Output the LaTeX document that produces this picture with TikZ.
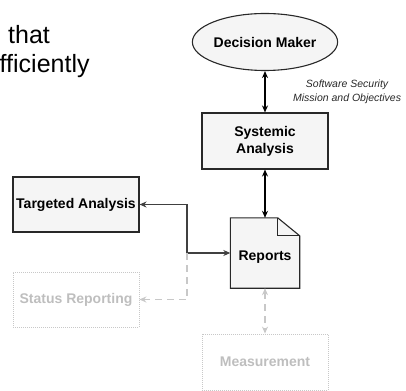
\documentclass[tikz,border=0pt]{standalone}
\usepackage{fontspec}
\setmainfont{Liberation Sans}
\usepackage{tikz}
\usetikzlibrary{positioning, shapes.geometric, arrows.meta}

\definecolor{boxfill}{RGB}{245,245,245}
\definecolor{boxline}{RGB}{40,40,40}
\definecolor{linkgray}{RGB}{64,64,64}
\definecolor{faded}{RGB}{200,200,200}
\definecolor{fadedtext}{RGB}{190,190,190}

\begin{document}
\begin{tikzpicture}[x=1pt, y=-1pt,
	stage/.style={draw=boxline, line width=1.1pt, fill=boxfill, align=center,
		inner sep=0pt, font=\fontsize{14}{16.8}\selectfont\bfseries},
	ghost/.style={draw=faded, line width=0.8pt, dash pattern=on 1pt off 1pt,
		text=fadedtext, inner sep=0pt, font=\fontsize{14}{16.8}\selectfont\bfseries},
	link/.style={line width=1.6pt, {Stealth[length=7pt,width=6pt]}-{Stealth[length=7pt,width=6pt]}},
	ghostlink/.style={draw=faded, line width=1.5pt, dash pattern=on 7pt off 5pt}
	]
	\useasboundingbox (0,0) rectangle (406,390);

	% slide text behind the figure
	\node[anchor=base west, inner sep=0pt, font=\fontsize{25}{29}\selectfont] (slidea) at (8,44) {that};
	\node[anchor=base west, inner sep=0pt, font=\fontsize{25}{29}\selectfont] (slideb) at (-0.5,73) {fficiently};

	% main chain
	\node[stage, ellipse, minimum width=136pt, minimum height=57pt] (decision) at (265,42) {Decision Maker};
	\node[stage, minimum width=126pt, minimum height=56pt] (systemic) at (265,141) {Systemic\\Analysis};
	\node[inner sep=0pt, minimum width=69pt, minimum height=70pt,
		font=\fontsize{14}{16.8}\selectfont\bfseries] (reports) at (265,253) {};
	\node[stage, minimum width=126pt, minimum height=55pt] (targeted) at (76,204.5) {Targeted Analysis};

	% folded sheet for the reports
	\draw[boxline, line width=1.1pt, fill=boxfill]
		(reports.north west) -- ([xshift=-22pt]reports.north east)
		-- ([yshift=-18pt]reports.north east) -- (reports.south east)
		-- (reports.south west) -- cycle;
	\draw[boxline, line width=1.1pt]
		([xshift=-22pt]reports.north east) -- ([xshift=-22pt, yshift=-18pt]reports.north east)
		-- ([yshift=-18pt]reports.north east);
	\node[font=\fontsize{14}{16.8}\selectfont\bfseries] (reportstext) at (265,257) {Reports};

	% faded parts
	\node[ghost, minimum width=126pt, minimum height=55pt] (status) at (76,299.5) {Status Reporting};
	\node[ghost, minimum width=126pt, minimum height=56pt] (measure) at (265,362) {Measurement};

	\coordinate (split) at (187,253);

	\draw[link] (decision.south) -- (systemic.north)
		node[midway, right=24pt, align=center, text=boxline,
		font=\fontsize{10.5}{14.5}\selectfont\itshape] (mission) {Software Security\\Mission and Objectives};
	\draw[link] (systemic.south) -- (reports.north);
	\draw[link, linkgray] (targeted.east) -| (split) -- (reports.west);

	\draw[ghostlink, -{Stealth[length=7pt,width=6pt]}] (split) |- (status.east);
	\draw[ghostlink, {Stealth[length=7pt,width=6pt]}-{Stealth[length=7pt,width=6pt]}] (reports.south) -- (measure.north);
\end{tikzpicture}
\end{document}
